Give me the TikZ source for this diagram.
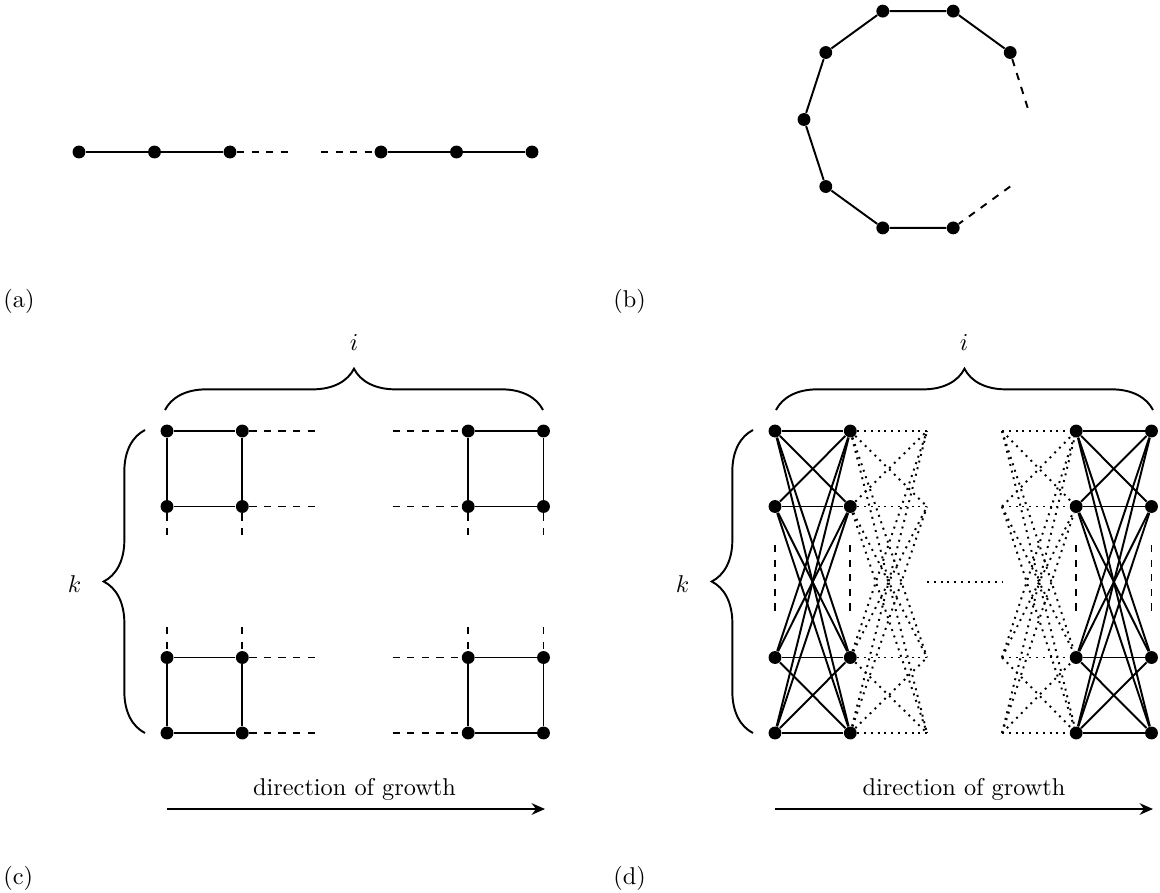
\documentclass[tikz,border=0pt]{standalone}
\usetikzlibrary{decorations.pathreplacing,arrows.meta}
\begin{document}
\begin{tikzpicture}[x=0.4115pt,y=-0.4115pt,
  dot/.style={circle,fill=black,inner sep=0pt,minimum size=5.3pt},
  edge/.style={line width=0.8pt},
  dedge/.style={line width=0.8pt,dashed},
  dotedge/.style={line width=0.8pt,dotted},
  brc/.style={decorate,decoration={brace,amplitude=17pt},line width=0.8pt},
  lbl/.style={inner sep=0pt,anchor=west},
  growth/.style={line width=0.8pt,-{Stealth[length=5.5pt,width=4.8pt]}}]
\useasboundingbox (0,0) rectangle (1160,892);

% ---------- (a) path ----------
\foreach \i/\x in {1/79,2/154.5,3/230,4/381,5/456.5,6/532}
  \node[dot] (a\i) at (\x,152) {};
\coordinate (a3e) at (290,152);
\coordinate (a4s) at (321,152);
\draw[edge] (a1)--(a2) (a2)--(a3) (a4)--(a5) (a5)--(a6);
\draw[dedge] (a3)--(a3e);
\draw[dedge] (a4s)--(a4);
\node[lbl] (la) at (3,301.5) {(a)};

% ---------- (b) cycle ----------
\node[dot] (b1) at (1010.2,52.5) {};
\node[dot] (b2) at (953.2,11.1) {};
\node[dot] (b3) at (882.8,11.1) {};
\node[dot] (b4) at (825.8,52.5) {};
\node[dot] (b5) at (804,119.5) {};
\node[dot] (b6) at (825.8,186.5) {};
\node[dot] (b7) at (882.8,227.9) {};
\node[dot] (b8) at (953.2,227.9) {};
\coordinate (b1e) at (1029,112);
\coordinate (b8s) at (1010.2,186.5);
\draw[edge] (b1)--(b2) (b2)--(b3) (b3)--(b4) (b4)--(b5) (b5)--(b6) (b6)--(b7) (b7)--(b8);
\draw[dedge] (b1)--(b1e);
\draw[dedge] (b8s)--(b8);
\node[lbl] (lb) at (613,301.5) {(b)};

% ---------- (c) ladder grid ----------
\foreach \r/\y in {1/431,2/506.5,3/657.5,4/733}
  \foreach \k/\x in {0/167,1/242.3,4/468.2,5/543.5}
    \node[dot] (c\r\k) at (\x,\y) {};
\foreach \r in {1,...,4}
  \draw[edge] (c\r0)--(c\r1) (c\r4)--(c\r5);
\foreach \k in {0,1,4,5}
  \draw[edge] (c1\k)--(c2\k) (c3\k)--(c4\k);
\foreach \r/\y in {1/431,2/506.5,3/657.5,4/733}{
  \coordinate (cr\r) at (317.6,\y);
  \coordinate (cl\r) at (392.5,\y);
  \draw[dedge] (c\r1)--(cr\r);
  \draw[dedge] (cl\r)--(c\r4);
}
\foreach \k/\x in {0/167,1/242.3,4/468.2,5/543.5}{
  \coordinate (cu\k) at (\x,537);
  \coordinate (cd\k) at (\x,627);
  \draw[dedge] (c2\k)--(cu\k);
  \draw[dedge] (cd\k)--(c3\k);
}
\coordinate (cib) at (165,410);
\coordinate (cie) at (543,410);
\draw[brc] (cib)--(cie);
\node (ci) at (354,342) {$i$};
\coordinate (ckb) at (145,733);
\coordinate (cke) at (145,430);
\draw[brc] (ckb)--(cke);
\node (ck) at (74.5,584) {$k$};
\coordinate (cgs) at (167,809);
\coordinate (cge) at (545,809);
\draw[growth] (cgs)--(cge);
\node[anchor=base] (cg) at (354.5,795) {direction of growth};
\node[lbl] (lc) at (3,878) {(c)};

% ---------- (d) complete bipartite layers ----------
\foreach \r/\y in {1/431,2/506.5,3/657.5,4/733}
  \foreach \k/\x in {0/775,1/850.3,4/1076.2,5/1151.5}
    \node[dot] (d\r\k) at (\x,\y) {};
\foreach \r/\y in {1/431,2/506.5,3/657.5,4/733}{
  \coordinate (dr\r) at (927,\y);
  \coordinate (dl\r) at (1002,\y);
}
\foreach \r in {1,...,4}
  \foreach \s in {1,...,4}{
    \draw[edge] (d\r0)--(d\s1) (d\r4)--(d\s5);
    \draw[dotedge] (d\r1)--(dr\s);
    \draw[dotedge] (dl\s)--(d\r4);
  }
\coordinate (dms) at (927,582);
\coordinate (dme) at (1002,582);
\draw[dotedge] (dms)--(dme);
\foreach \k/\x in {0/775,1/850.3,4/1076.2,5/1151.5}{
  \coordinate (du\k) at (\x,545);
  \coordinate (dd\k) at (\x,615);
  \draw[dedge] (du\k)--(dd\k);
}
\coordinate (dib) at (776,410);
\coordinate (die) at (1153,410);
\draw[brc] (dib)--(die);
\node (di) at (964,342) {$i$};
\coordinate (dkb) at (753,733);
\coordinate (dke) at (753,430);
\draw[brc] (dkb)--(dke);
\node (dk) at (682.5,584) {$k$};
\coordinate (dgs) at (775,809);
\coordinate (dge) at (1153,809);
\draw[growth] (dgs)--(dge);
\node[anchor=base] (dg) at (964,795) {direction of growth};
\node[lbl] (ld) at (613,878) {(d)};
\end{tikzpicture}
\end{document}
